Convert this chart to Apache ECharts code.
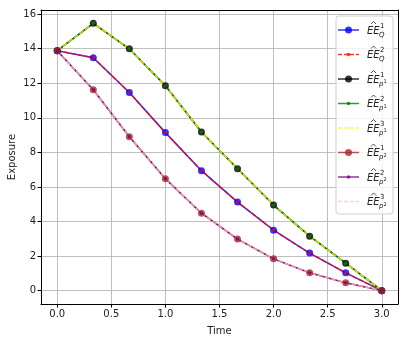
<!DOCTYPE html>
<html>
<head>
<meta charset="utf-8">
<script src="https://cdn.jsdelivr.net/npm/echarts@6/dist/echarts.min.js"></script>
<style>
  html, body { margin: 0; padding: 0; background: #fff; }
  #chart { width: 408px; height: 342px; }
</style>
</head>
<body>
<div id="chart"></div>
<script>
// time grid and exposure curves
const time = [0, 0.3333, 0.6667, 1.0, 1.3333, 1.6667, 2.0, 2.3333, 2.6667, 3.0]
const eeQ1 = [13.88, 13.47, 11.46, 9.14, 6.94, 5.12, 3.50, 2.17, 1.03, 0]
const eeQ2 = [13.88, 13.47, 11.46, 9.14, 6.94, 5.12, 3.50, 2.17, 1.03, 0]
const eeP1a = [13.88, 15.46, 13.99, 11.85, 9.18, 7.05, 4.95, 3.15, 1.59, 0]
const eeP1b = [13.88, 15.46, 13.99, 11.85, 9.18, 7.05, 4.95, 3.15, 1.59, 0]
const eeP1c = [13.88, 15.46, 13.99, 11.85, 9.18, 7.05, 4.95, 3.15, 1.59, 0]
const eeP2a = [13.88, 11.62, 8.90, 6.47, 4.48, 2.98, 1.84, 1.03, 0.45, 0]
const eeP2b = [13.88, 11.62, 8.90, 6.47, 4.48, 2.98, 1.84, 1.03, 0.45, 0]
const eeP2c = [13.88, 11.62, 8.90, 6.47, 4.48, 2.98, 1.84, 1.03, 0.45, 0]
const xTicks = [0, 0.5, 1.0, 1.5, 2.0, 2.5, 3.0]
const yTicks = [0, 2, 4, 6, 8, 10, 12, 14, 16]

// label parts: superscript, subscript letter, sub-superscript
const curves = [
  { values: eeQ1, color: 'blue', marker: 'big', dash: 'solid', sup: '1', sub: 'Q', subsup: '' },
  { values: eeQ2, color: 'red', marker: 'small', dash: 'dashed', sup: '2', sub: 'Q', subsup: '' },
  { values: eeP1a, color: 'black', marker: 'big', dash: 'solid', sup: '1', sub: 'p', subsup: '1' },
  { values: eeP1b, color: 'green', marker: 'small', dash: 'solid', sup: '2', sub: 'p', subsup: '1' },
  { values: eeP1c, color: 'yellow', marker: 'none', dash: 'dashed', sup: '3', sub: 'p', subsup: '1' },
  { values: eeP2a, color: 'brown', marker: 'big', dash: 'solid', sup: '1', sub: 'p', subsup: '2' },
  { values: eeP2b, color: 'purple', marker: 'small', dash: 'solid', sup: '2', sub: 'p', subsup: '2' },
  { values: eeP2c, color: 'pink', marker: 'none', dash: 'dashed', sup: '3', sub: 'p', subsup: '2' }
]

const font = 'DejaVu Sans'
const ink = '#222'
const sizes = { big: 7, small: 3.5, none: 0 }

const chart = echarts.init(document.getElementById('chart'))

const series = curves.map(c => ({
  type: 'line',
  data: time.map((t, i) => [t, c.values[i]]),
  symbol: c.marker === 'none' ? 'none' : 'circle',
  symbolSize: sizes[c.marker],
  lineStyle: { color: c.color, width: 1.5, type: c.dash === 'dashed' ? [5, 2] : 'solid', opacity: 0.8 },
  itemStyle: { color: c.color, opacity: 0.8 },
  emphasis: { disabled: true },
  silent: true
}))

// hand drawn legend box (math labels)
const legend = [{
  type: 'rect',
  shape: { x: 336, y: 16, width: 57, height: 198, r: 3 },
  style: { fill: 'rgba(255,255,255,0.8)', stroke: '#d0d0d0', lineWidth: 1 },
  z: 100
}]
curves.forEach((c, i) => {
  const cy = 30 + i * 24.5
  legend.push({
    type: 'line',
    shape: { x1: 338, y1: cy, x2: 359, y2: cy },
    style: { stroke: c.color, lineWidth: 1.5, opacity: 0.8, lineDash: c.dash === 'dashed' ? [4, 2] : null },
    z: 101
  })
  if (c.marker !== 'none') {
    legend.push({
      type: 'circle',
      shape: { cx: 348.5, cy: cy, r: sizes[c.marker] / 2 },
      style: { fill: c.color, opacity: 0.8 },
      z: 102
    })
  }
  legend.push({
    type: 'text', x: 367, y: cy + 1, z: 101,
    style: { text: 'EE', font: 'italic 10px ' + font, fill: ink, verticalAlign: 'middle' }
  })
  legend.push({
    type: 'polyline', z: 101,
    shape: { points: [[371, cy - 6], [373.5, cy - 8.5], [376, cy - 6]] },
    style: { stroke: ink, lineWidth: 0.8, fill: null }
  })
  legend.push({
    type: 'text', x: 380, y: cy - 4, z: 101,
    style: { text: c.sup, font: '7px ' + font, fill: ink, verticalAlign: 'middle' }
  })
  legend.push({
    type: 'text', x: 379, y: cy + 5, z: 101,
    style: { text: c.sub, font: 'italic 7px ' + font, fill: ink, verticalAlign: 'middle' }
  })
  if (c.subsup) {
    legend.push({
      type: 'text', x: 383.5, y: cy + 3, z: 101,
      style: { text: c.subsup, font: '5px ' + font, fill: ink, verticalAlign: 'middle' }
    })
  }
})

const option = {
  animation: false,
  backgroundColor: '#fff',
  grid: { left: 41, right: 10, top: 10, bottom: 38, containLabel: false, outerBoundsMode: 'none' },
  xAxis: [
    {
      type: 'value',
      min: -0.15,
      max: 3.15,
      name: 'Time',
      nameLocation: 'middle',
      nameGap: 22,
      nameMoveOverlap: false,
      nameTextStyle: { color: ink, fontSize: 10, fontFamily: font },
      axisLine: { show: true, onZero: false, lineStyle: { color: '#000', width: 1 } },
      axisTick: { show: true, length: 3.5, customValues: xTicks, lineStyle: { color: '#000' } },
      axisLabel: {
        customValues: xTicks, color: ink, fontSize: 10, fontFamily: font, margin: 5,
        formatter: v => v.toFixed(1)
      },
      splitLine: { show: true, lineStyle: { color: '#b0b0b0', width: 0.8 } }
    },
    {
      type: 'value', position: 'top', min: -0.15, max: 3.15,
      axisLine: { show: true, onZero: false, lineStyle: { color: '#000', width: 1 } },
      axisTick: { show: false }, axisLabel: { show: false }, splitLine: { show: false }
    }
  ],
  yAxis: [
    {
      type: 'value',
      min: -0.773,
      max: 16.233,
      name: 'Exposure',
      nameLocation: 'middle',
      nameGap: 24,
      nameMoveOverlap: false,
      nameTextStyle: { color: ink, fontSize: 10, fontFamily: font },
      axisLine: { show: true, onZero: false, lineStyle: { color: '#000', width: 1 } },
      axisTick: { show: true, length: 3.5, customValues: yTicks, lineStyle: { color: '#000' } },
      axisLabel: { customValues: yTicks, color: ink, fontSize: 10, fontFamily: font, margin: 5 },
      splitLine: { show: true, lineStyle: { color: '#b0b0b0', width: 0.8 } }
    },
    {
      type: 'value', position: 'right', min: -0.773, max: 16.233,
      axisLine: { show: true, onZero: false, lineStyle: { color: '#000', width: 1 } },
      axisTick: { show: false }, axisLabel: { show: false }, splitLine: { show: false }
    }
  ],
  series: series,
  graphic: legend
}

chart.setOption(option)
</script>
</body>
</html>
